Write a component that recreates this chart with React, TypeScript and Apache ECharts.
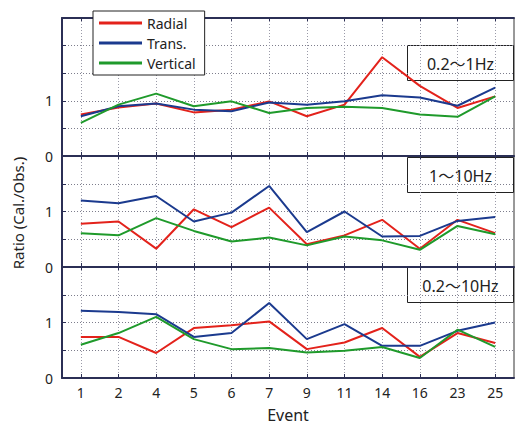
import React, { useEffect, useRef } from "react";
import * as echarts from "echarts";

const events = ["1", "2", "4", "5", "6", "7", "9", "11", "14", "16", "23", "25"];
const bandLabels = ["0.2〜1Hz", "1〜10Hz", "0.2〜10Hz"];
const seriesNames = ["Radial", "Trans.", "Vertical"];
const colors = ["#e3221b", "#1b3a8e", "#1f9a2b"];

const radialLow = [0.75, 0.88, 0.95, 0.79, 0.84, 0.99, 0.72, 0.93, 1.79, 1.27, 0.87, 1.08];
const transLow = [0.72, 0.9, 0.95, 0.84, 0.81, 0.97, 0.93, 0.99, 1.1, 1.06, 0.91, 1.24];
const verticalLow = [0.6, 0.93, 1.13, 0.9, 0.99, 0.78, 0.87, 0.89, 0.87, 0.75, 0.71, 1.08];

const radialMid = [0.78, 0.82, 0.33, 1.04, 0.72, 1.07, 0.41, 0.57, 0.85, 0.33, 0.85, 0.61];
const transMid = [1.2, 1.15, 1.28, 0.82, 0.98, 1.46, 0.63, 1.0, 0.55, 0.56, 0.83, 0.9];
const verticalMid = [0.61, 0.57, 0.88, 0.65, 0.46, 0.53, 0.39, 0.55, 0.48, 0.31, 0.74, 0.59];

const radialBroad = [0.74, 0.74, 0.45, 0.9, 0.95, 1.02, 0.52, 0.64, 0.9, 0.38, 0.81, 0.63];
const transBroad = [1.21, 1.19, 1.15, 0.74, 0.81, 1.35, 0.7, 0.97, 0.58, 0.58, 0.85, 1.0];
const verticalBroad = [0.6, 0.81, 1.1, 0.7, 0.52, 0.54, 0.46, 0.49, 0.56, 0.36, 0.87, 0.56];

const yMax = [2.5, 2, 2];
const yLabelsShown = [0, 1];

const panelData = [
  [radialLow, transLow, verticalLow],
  [radialMid, transMid, verticalMid],
  [radialBroad, transBroad, verticalBroad],
];

const FONT = '"Noto Sans", "Noto Sans CJK JP", sans-serif';
const AXIS_COLOR = "#2b2f55";

export default function App() {
  const ref = useRef<HTMLDivElement>(null);

  useEffect(() => {
    if (!ref.current) return;
    const chart = echarts.init(ref.current, undefined, { renderer: "svg" });

    const gridTops = [18, 156, 267];
    const gridHeights = [138, 111, 111];
    const left = 62;
    const width = 452;

    const grids = gridTops.map((top, i) => ({
      left,
      width,
      top,
      height: gridHeights[i],
      show: true,
      borderColor: "#333",
      borderWidth: 1,
      backgroundColor: "transparent",
    }));

    const xAxes: any[] = gridTops.map((_, i) => ({
      type: "category",
      gridIndex: i,
      data: events,
      boundaryGap: true,
      axisLine: { show: true, lineStyle: { color: AXIS_COLOR, width: 2 } },
      axisTick: {
        show: true,
        inside: true,
        alignWithLabel: true,
        length: 4,
        lineStyle: { color: AXIS_COLOR },
      },
      axisLabel: {
        show: i === 2,
        color: "#222",
        fontSize: 14,
        fontFamily: FONT,
        margin: 7,
      },
      splitLine: {
        show: true,
        alignWithLabel: true,
        lineStyle: { color: "#9a9aa8", type: [1, 2], width: 1 },
      },
      name: i === 2 ? "Event" : "",
      nameLocation: "middle",
      nameGap: 29,
      nameTextStyle: { color: "#222", fontSize: 16, fontFamily: FONT },
    }));

    // top-edge tick marks of each panel
    gridTops.forEach((_, i) => {
      xAxes.push({
        type: "category",
        gridIndex: i,
        position: "top",
        data: events,
        boundaryGap: true,
        axisLine: { show: true, lineStyle: { color: AXIS_COLOR, width: i === 0 ? 2 : 1 } },
        axisTick: {
          show: true,
          inside: true,
          alignWithLabel: true,
          length: 3,
          lineStyle: { color: AXIS_COLOR },
        },
        axisLabel: { show: false },
        splitLine: { show: false },
      });
    });

    const yAxes = gridTops.map((_, i) => ({
      type: "value",
      gridIndex: i,
      min: 0,
      max: yMax[i],
      interval: 0.5,
      axisLine: { show: true, lineStyle: { color: AXIS_COLOR, width: 2 } },
      axisTick: {
        show: true,
        inside: true,
        length: 4,
        lineStyle: { color: AXIS_COLOR },
      },
      axisLabel: {
        color: "#222",
        fontSize: 14,
        fontFamily: FONT,
        margin: 9,
        formatter: (v: number) => (yLabelsShown.includes(v) ? String(v) : ""),
      },
      splitLine: {
        show: true,
        lineStyle: { color: "#7d7d8c", type: [1, 2], width: 1 },
      },
    }));

    const series: any[] = [];
    panelData.forEach((panel, gi) => {
      panel.forEach((vals, si) => {
        series.push({
          type: "line",
          name: seriesNames[si],
          xAxisIndex: gi,
          yAxisIndex: gi,
          data: vals,
          symbol: "none",
          lineStyle: { color: colors[si], width: 2 },
          itemStyle: { color: colors[si] },
          z: 3,
        });
      });
    });

    const labelBoxes = bandLabels.map((label, i) => {
      const ys = [45, 157, 267];
      return {
        type: "group",
        left: 407,
        top: ys[i],
        z: 10,
        children: [
          {
            type: "rect",
            shape: { x: 0, y: 0, width: 106, height: 35 },
            style: { fill: "#fff", stroke: "#222", lineWidth: 1 },
          },
          {
            type: "text",
            x: 53,
            y: 18,
            style: {
              text: label,
              fill: "#222",
              font: `16px ${FONT}`,
              textAlign: "center",
              textVerticalAlign: "middle",
            },
          },
        ],
      };
    });

    chart.setOption({
      animation: false,
      backgroundColor: "#fff",
      grid: grids,
      xAxis: xAxes,
      yAxis: yAxes,
      series,
      legend: {
        data: seriesNames,
        orient: "vertical",
        left: 93,
        top: 11,
        icon: "rect",
        itemWidth: 43,
        itemHeight: 3,
        itemGap: 4,
        padding: [4, 9, 4, 6],
        backgroundColor: "#fff",
        borderColor: "#222",
        borderWidth: 1,
        borderRadius: 0,
        textStyle: { color: "#222", fontSize: 14, fontFamily: FONT, lineHeight: 16 },
        z: 10,
      },
      graphic: [
        ...labelBoxes,
        {
          type: "text",
          x: 18,
          y: 213,
          rotation: Math.PI / 2,
          style: {
            text: "Ratio (Cal./Obs.)",
            fill: "#222",
            font: `15px ${FONT}`,
            textAlign: "center",
            textVerticalAlign: "middle",
          },
        },
      ],
    });

    return () => chart.dispose();
  }, []);

  return (
    <div
      ref={ref}
      style={{ position: "fixed", left: 0, top: 0, width: 516, height: 427 }}
    />
  );
}
